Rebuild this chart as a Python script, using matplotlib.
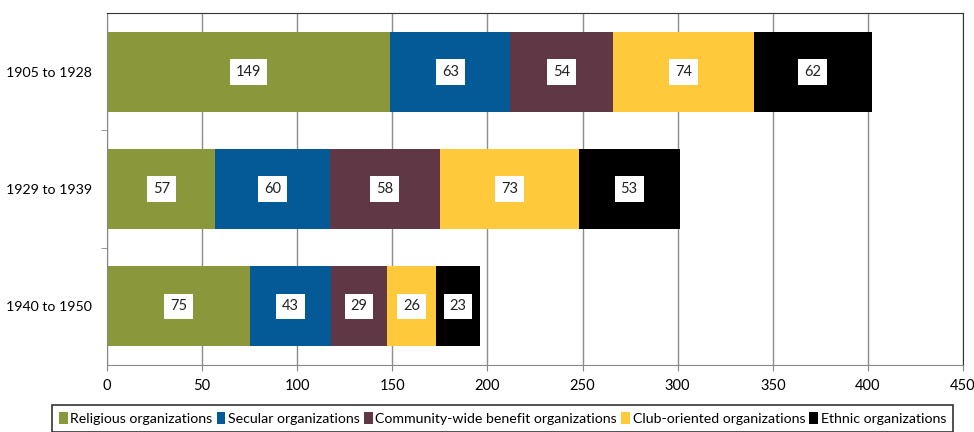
import numpy as np
import matplotlib
matplotlib.use('Agg')
import matplotlib.pyplot as plt
from matplotlib.patches import Patch

plt.rcParams['font.family'] = ['Lato', 'DejaVu Sans']

periods = ['1905 to 1928', '1929 to 1939', '1940 to 1950']
series = ['Religious organizations', 'Secular organizations',
          'Community-wide benefit organizations', 'Club-oriented organizations',
          'Ethnic organizations']
religious = [149, 57, 75]
secular = [63, 60, 43]
community = [54, 58, 29]
club = [74, 73, 26]
ethnic = [62, 53, 23]
colors = ['#8A973B', '#045A96', '#603744', '#FFC93C', '#000000']

W, H = 974, 432
fig = plt.figure(figsize=(W / 100, H / 100), dpi=100)
ax = fig.add_axes([107 / W, 1 - 365 / H, (963 - 107) / W, (365 - 13) / H])

y = np.arange(len(periods))[::-1]
left = np.zeros(len(periods))
for vals, col in zip([religious, secular, community, club, ethnic], colors):
    vals = np.array(vals)
    ax.barh(y, vals, left=left, height=0.68, color=col, zorder=2)
    for yi, l, v in zip(y, left, vals):
        ax.text(l + v / 2, yi, str(v), ha='center', va='center', fontsize=10.5,
                color='#222222', zorder=3,
                bbox=dict(boxstyle='square,pad=0.4', fc='white', ec='none'))
    left += vals

ax.set_xlim(0, 450)
ax.set_ylim(-0.5, 2.5)
ax.set_xticks(np.arange(0, 451, 50))
ax.set_yticks(y)
ax.set_yticklabels(periods)
ax.set_yticks([0.5, 1.5], minor=True)
ax.tick_params(axis='y', which='major', length=0, labelsize=10.2, pad=11)
ax.tick_params(axis='y', which='minor', length=4, color='#888888')
ax.tick_params(axis='x', length=4, color='#888888', labelsize=10.5, pad=6)
ax.grid(axis='x', color='#8c8c8c', linewidth=1, zorder=0)
ax.set_axisbelow(True)
for s in ['left', 'bottom']:
    ax.spines[s].set_color('#888888')
for s in ['top', 'right']:
    ax.spines[s].set_color('#333333')

handles = [Patch(facecolor=c, edgecolor='none') for c in colors]
leg = fig.legend(handles, series, loc='upper left',
                 bbox_to_anchor=(52 / W, 1 - 405 / H), ncol=5, fontsize=10.2,
                 frameon=True, fancybox=False, edgecolor='black',
                 handlelength=0.6, handleheight=0.9, handletextpad=0.2,
                 columnspacing=0.3, borderpad=0.5, borderaxespad=0)
leg.get_frame().set_linewidth(1.2)

fig.savefig('out.png', dpi=100)
